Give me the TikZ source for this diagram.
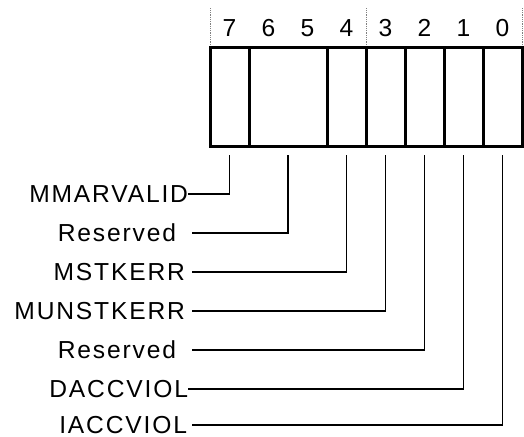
\documentclass[tikz,border=0pt]{standalone}
\usepackage{fontspec}
\setmainfont{Liberation Sans}
\usepackage{tikz}
\usetikzlibrary{positioning, calc}

\begin{document}
\begin{tikzpicture}[
    x=1pt, y=-1pt,
    node distance=0pt,
    every node/.style={font=\fontsize{24.6}{30}\selectfont\addfontfeatures{LetterSpace=7.5}},
    field/.style={
        draw=black,
        line width=3pt,
        minimum height=98pt,
        minimum width=39pt,
        outer sep=0pt,
        inner sep=0pt
    },
    digit/.style={inner sep=0pt},
    lbl/.style={anchor=east, inner sep=0pt, outer xsep=#1},
    lbl/.default=7pt,
    wire/.style={line width=1.2pt},
    guide/.style={gray, densely dotted, line width=0.8pt}
]
\useasboundingbox (0,0) rectangle (524,436);

% register fields, bit 7 to bit 0
\node[field, anchor=north west] (b7) at (210,48) {};
\node[field, right=of b7, minimum width=78pt] (b65) {};
\node[field, right=of b65] (b4) {};
\node[field, right=of b4] (b3) {};
\node[field, right=of b3] (b2) {};
\node[field, right=of b2] (b1) {};
\node[field, right=of b1] (b0) {};

% bit numbers
\node[digit] (n7) at (229.5,28) {7};
\node[digit] (n6) at (268.5,28) {6};
\node[digit] (n5) at (307.5,28) {5};
\node[digit] (n4) at (346.5,28) {4};
\node[digit] (n3) at (385.5,28) {3};
\node[digit] (n2) at (424.5,28) {2};
\node[digit] (n1) at (463.5,28) {1};
\node[digit] (n0) at (502.5,28) {0};

\draw[guide] ([yshift=3pt]b7.north west) -- ++(0,37pt);
\draw[guide] ([yshift=3pt]b4.north east) -- ++(0,37pt);
\draw[guide] ([yshift=3pt]b0.north east) -- ++(0,37pt);

% field names
\node[lbl=0pt] (mmarvalid) at (188,194) {MMARVALID};
\node[lbl=16pt] (rsvda) at (192,233) {Reserved};
\node[lbl] (mstkerr) at (192,272) {MSTKERR};
\node[lbl] (munstkerr) at (192,311) {MUNSTKERR};
\node[lbl=16pt] (rsvdb) at (192,350) {Reserved};
\node[lbl=0pt] (daccviol) at (188,389) {DACCVIOL};
\node[lbl=5pt] (iaccviol) at (192,425) {IACCVIOL};

% connector ends under the fields
\coordinate (t7) at ([yshift=-9pt]b7.south);
\coordinate (t65) at ([yshift=-9pt]b65.south);
\coordinate (t4) at ([yshift=-9pt]b4.south);
\coordinate (t3) at ([yshift=-9pt]b3.south);
\coordinate (t2) at ([yshift=-9pt]b2.south);
\coordinate (t1) at ([yshift=-9pt]b1.south);
\coordinate (t0) at ([yshift=-9pt]b0.south);

\draw[wire] (mmarvalid.east) -| (t7);
\draw[wire] (rsvda.east) -| (t65);
\draw[wire] (mstkerr.east) -| (t4);
\draw[wire] (munstkerr.east) -| (t3);
\draw[wire] (rsvdb.east) -| (t2);
\draw[wire] (daccviol.east) -| (t1);
\draw[wire] (iaccviol.east) -| (t0);

\end{tikzpicture}
\end{document}
